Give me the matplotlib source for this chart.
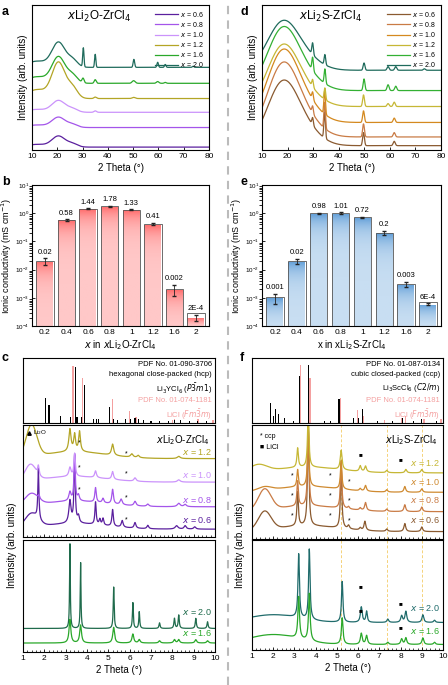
import numpy as np
import matplotlib
matplotlib.use("Agg")
import matplotlib.pyplot as plt
from matplotlib.lines import Line2D

plt.rcParams['font.family'] = ['Liberation Sans', 'DejaVu Sans']
plt.rcParams['mathtext.fontset'] = 'dejavusans'

W, H = 448, 685

# ---------------- data ----------------
x_labels = ['0.6', '0.8', '1.0', '1.2', '1.6', '2.0']

# panel a: base, hump amplitude, sharp peaks (center, amp, sigma)
a_colors = ['#5a1f9e', '#a455ea', '#cb93fb', '#b3a525', '#2aa82a', '#1f6b5c']
a_base = [0.02, 0.155, 0.26, 0.355, 0.46, 0.57]
a_hump = [0.075, 0.07, 0.08, 0.245, 0.18, 0.17]
a_peaks = [[], [], [(35, 0.01, 0.5)],
           [(35, 0.01, 0.5), (50.2, 0.008, 0.6)],
           [(30.2, 0.03, 0.4), (35, 0.025, 0.4), (50.2, 0.018, 0.6), (59.7, 0.012, 0.5), (62.7, 0.006, 0.4)],
           [(30.3, 0.13, 0.25), (35, 0.09, 0.25), (50.3, 0.055, 0.3), (59.7, 0.035, 0.3),
            (62.7, 0.02, 0.3), (73.7, 0.008, 0.3)]]

# panel d
d_colors = ['#8a5a30', '#c97b45', '#d4891f', '#c6b735', '#33b033', '#1f6b5c']
d_base = [0.03, 0.09, 0.19, 0.30, 0.41, 0.55]
d_hump = [0.42, 0.48, 0.47, 0.40, 0.41, 0.32]
d_peaks = [[(29.8, 0.05, 0.3), (34.5, 0.18, 0.3), (49.7, 0.09, 0.35), (61.7, 0.03, 0.4)],
           [(29.8, 0.05, 0.3), (34.5, 0.18, 0.3), (49.7, 0.09, 0.35), (61.7, 0.03, 0.4)],
           [(29.8, 0.05, 0.3), (34.5, 0.16, 0.3), (49.7, 0.08, 0.35), (61.7, 0.03, 0.4)],
           [(29.8, 0.05, 0.3), (34.6, 0.08, 0.3), (49.7, 0.08, 0.35), (59.3, 0.02, 0.4), (61.7, 0.03, 0.4)],
           [(29.8, 0.09, 0.3), (34.6, 0.10, 0.3), (49.9, 0.08, 0.35), (59.3, 0.04, 0.4), (62.3, 0.03, 0.4)],
           [(29.8, 0.08, 0.3), (34.6, 0.07, 0.3), (49.9, 0.05, 0.35), (59.3, 0.025, 0.4),
            (62.3, 0.025, 0.4), (73.5, 0.01, 0.4)]]

# panels b / e
bar_cats = ['0.2', '0.4', '0.6', '0.8', '1', '1.2', '1.6', '2']
b_vals = [0.02, 0.58, 1.44, 1.78, 1.33, 0.41, 0.002, 2e-4]
b_errs = [0.005, 0.03, 0.05, 0.06, 0.05, 0.04, 0.0008, 5e-5]
b_text = ['0.02', '0.58', '1.44', '1.78', '1.33', '0.41', '0.002', '2E-4']
e_vals = [0.001, 0.02, 0.98, 1.01, 0.72, 0.2, 0.003, 6e-4]
e_errs = [0.0004, 0.004, 0.05, 0.05, 0.04, 0.03, 0.0006, 0.00003]
e_text = ['0.001', '0.02', '0.98', '1.01', '0.72', '0.2', '0.003', '6E-4']

# panel c reference sticks
c_black_pos = [2.06, 2.22, 2.77, 3.22, 3.47, 3.53, 3.75, 3.9, 4.3, 4.45, 4.55, 5.05, 5.25, 5.45,
               5.8, 6.05, 6.25, 6.4, 6.65, 7.0, 7.4, 7.8, 8.1, 8.4, 8.8, 9.2, 9.6]
c_black_h = [0.40, 0.29, 0.11, 0.10, 0.90, 0.10, 0.10, 0.61, 0.07, 0.07, 0.06, 0.26, 0.07, 0.05,
             0.07, 0.06, 0.08, 0.07, 0.05, 0.04, 0.04, 0.04, 0.05, 0.05, 0.04, 0.04, 0.03]
c_pink_pos = [3.35, 3.79, 5.18, 6.0, 6.3, 8.0, 8.1, 9.2, 9.9]
c_pink_h = [0.92, 0.72, 0.38, 0.20, 0.10, 0.05, 0.06, 0.07, 0.05]

# panel f reference sticks
f_black_pos = [1.87, 2.0, 2.1, 2.25, 2.55, 2.95, 3.25, 3.65, 4.4, 4.7, 5.1, 5.8, 6.0, 6.2, 6.9, 7.6, 8.1, 8.6, 9.0, 9.7]
f_black_h = [0.33, 0.12, 0.22, 0.15, 0.08, 0.04, 0.76, 0.93, 0.03, 0.04, 0.38, 0.08, 0.08, 0.22,
             0.03, 0.03, 0.08, 0.03, 0.07, 0.03]
f_pink_pos = [3.29, 3.73, 5.16, 5.98, 6.27, 7.25, 8.05, 8.23, 9.1, 9.9]
f_pink_h = [0.93, 0.73, 0.40, 0.21, 0.12, 0.05, 0.08, 0.12, 0.06, 0.06]

# panel c middle
c_mid_labels = ['0.6', '0.8', '1.0', '1.2']
c_mid_colors = ['#5a1f9e', '#a455ea', '#cb93fb', '#b3a525']
c_mid_base = [0.07, 0.27, 0.49, 0.70]
c_mid_peaks = [
    [(1.4, 0.12, 0.3), (3.4, 0.05, 1.5), (1.72, 0.45, 0.03), (3.2, 0.2, 0.06), (3.42, 0.6, 0.035), (3.6, 0.06, 0.05),
     (4.4, 0.2, 0.035), (4.6, 0.05, 0.04), (4.75, 0.06, 0.04), (5.2, 0.15, 0.04), (5.65, 0.06, 0.05),
     (6.25, 0.05, 0.05), (6.85, 0.03, 0.05), (8.2, 0.03, 0.08), (8.6, 0.03, 0.06), (9.05, 0.02, 0.06)],
    [(1.4, 0.1, 0.3), (3.4, 0.05, 1.5), (1.75, 0.03, 0.04), (3.2, 0.08, 0.06), (3.42, 0.42, 0.035), (3.6, 0.05, 0.05),
     (4.4, 0.13, 0.04), (4.75, 0.04, 0.05), (5.2, 0.13, 0.045), (5.6, 0.05, 0.06), (6.25, 0.04, 0.06),
     (6.85, 0.02, 0.06), (8.3, 0.03, 0.08), (8.6, 0.02, 0.07)],
    [(1.35, 0.14, 0.25), (3.4, 0.05, 1.5), (1.72, 0.08, 0.04), (3.2, 0.08, 0.06), (3.42, 0.2, 0.04),
     (4.4, 0.06, 0.05), (5.2, 0.07, 0.05), (6.25, 0.03, 0.06), (8.3, 0.02, 0.08)],
    [(1.4, 0.28, 0.25), (3.4, 0.06, 1.5), (3.2, 0.2, 0.06), (3.42, 0.15, 0.05), (3.65, 0.18, 0.05),
     (5.2, 0.1, 0.06), (6.1, 0.03, 0.07), (6.4, 0.02, 0.06), (8.3, 0.02, 0.08)],
]

c_bot_labels = ['2.0', '1.6']
c_bot_colors = ['#1f6b4c', '#2aa82a']
c_bot_base = [0.21, 0.08]
c_bot_peaks = [
    [(3.2, 0.76, 0.02), (3.7, 0.59, 0.02), (5.25, 0.37, 0.025), (6.15, 0.23, 0.025), (6.45, 0.15, 0.025),
     (7.4, 0.05, 0.03), (8.1, 0.09, 0.03), (8.3, 0.12, 0.03), (9.1, 0.09, 0.03), (9.65, 0.06, 0.03)],
    [(3.2, 0.21, 0.05), (3.7, 0.16, 0.05), (5.25, 0.14, 0.05), (6.15, 0.08, 0.05), (6.45, 0.03, 0.05),
     (7.4, 0.02, 0.05), (8.1, 0.03, 0.05), (8.3, 0.03, 0.05), (9.1, 0.03, 0.05), (9.65, 0.02, 0.05)],
]

f_mid_labels = ['0.6', '0.8', '1.0', '1.2']
f_mid_colors = ['#8a5a30', '#c97b45', '#cf8a30', '#c6b735']
f_mid_base = [0.065, 0.24, 0.41, 0.58]
f_mid_peaks = [
    [(1.6, 0.16, 0.3), (3.6, 0.05, 1.5), (3.15, 0.3, 0.04), (3.65, 0.9, 0.04), (5.2, 0.55, 0.04), (5.55, 0.03, 0.05),
     (6.1, 0.02, 0.05), (6.32, 0.08, 0.05), (7.35, 0.02, 0.05), (8.2, 0.07, 0.05), (9.0, 0.04, 0.05)],
    [(1.6, 0.18, 0.3), (3.6, 0.05, 1.5), (3.15, 0.22, 0.04), (3.65, 0.7, 0.04), (5.2, 0.4, 0.04), (5.55, 0.02, 0.05),
     (6.1, 0.02, 0.05), (6.35, 0.07, 0.05), (7.35, 0.02, 0.05), (8.2, 0.06, 0.05), (9.0, 0.04, 0.05)],
    [(1.6, 0.03, 0.3), (3.6, 0.05, 1.5), (3.15, 0.15, 0.04), (3.65, 0.5, 0.04), (5.2, 0.25, 0.04),
     (6.1, 0.02, 0.05), (6.35, 0.05, 0.05), (7.35, 0.02, 0.05), (8.2, 0.05, 0.05), (9.0, 0.03, 0.05)],
    [(1.3, 0.06, 0.4), (3.6, 0.05, 1.5), (3.15, 0.17, 0.04), (3.65, 0.5, 0.04), (5.2, 0.17, 0.05),
     (6.1, 0.05, 0.05), (6.35, 0.05, 0.05), (7.35, 0.02, 0.05), (8.25, 0.03, 0.05), (9.0, 0.03, 0.05)],
]

f_bot_labels = ['2.0', '1.6']
f_bot_colors = ['#1f6b6b', '#2aa82a']
f_bot_base = [0.25, 0.05]
f_bot_peaks = [
    [(2.0, 0.07, 1.2), (3.2, 0.58, 0.04), (3.7, 0.64, 0.04), (5.25, 0.37, 0.04), (6.15, 0.14, 0.05),
     (6.4, 0.1, 0.04), (7.4, 0.03, 0.05), (8.05, 0.06, 0.05), (8.25, 0.1, 0.05), (9.05, 0.07, 0.05), (9.6, 0.02, 0.05)],
    [(2.0, 0.09, 1.2), (3.2, 0.38, 0.045), (3.7, 0.43, 0.045), (5.25, 0.24, 0.045), (6.15, 0.1, 0.05),
     (6.4, 0.08, 0.05), (7.4, 0.02, 0.05), (8.05, 0.05, 0.05), (8.25, 0.06, 0.05), (9.05, 0.06, 0.05), (9.6, 0.02, 0.05)],
]


def curve(x, base, peaks):
    y = np.full_like(x, base)
    for c, a, s in peaks:
        if s > 0.2:
            y += a * np.exp(-0.5 * ((x - c) / s) ** 2)
        else:
            y += a / (1 + ((x - c) / s) ** 2)
    return y


def box(l, t, r, b):
    return [l / W, 1 - b / H, (r - l) / W, (b - t) / H]


fig = plt.figure(figsize=(W / 100, H / 100), dpi=100)
fs = 6


def style(ax):
    ax.tick_params(direction='in', labelsize=fs, length=2, width=0.6, pad=2)
    for s in ax.spines.values():
        s.set_linewidth(0.8)


# ---------- a / d ----------
tt = np.linspace(10, 80, 1400)
for pos, cols, base, hump, peaks, title, anchor, humpc in [
        (box(32, 5, 209, 150), a_colors, a_base, a_hump, a_peaks, r'$x$Li$_2$O-ZrCl$_4$', 'a', 20.5),
        (box(262, 5, 441, 150), d_colors, d_base, d_hump, d_peaks, r'$x$Li$_2$S-ZrCl$_4$', 'd', 18)]:
    ax = fig.add_axes(pos)
    for i, lab in enumerate(x_labels):
        if anchor == 'a':
            pk = [(humpc, hump[i], 2.6), (26, 0.3 * hump[i], 2.0), (12, 0.25 * hump[i], 4)] + peaks[i]
        else:
            pk = [(humpc, hump[i], 6.0), (27, 0.22 * hump[i], 6)] + peaks[i]
        ax.plot(tt, curve(tt, base[i], pk), color=cols[i], lw=0.9, label=r'$x$ = ' + lab)
    ax.set_xlim(10, 80)
    ax.set_ylim(0, 1)
    ax.set_yticks([])
    ax.set_xticks(range(10, 81, 10))
    ax.set_xlabel('2 Theta (°)', fontsize=7, labelpad=2)
    ax.set_ylabel('Intensity (arb. units)', fontsize=7, labelpad=3)
    ax.legend(loc='upper right', fontsize=5, frameon=False, handlelength=3.2, labelspacing=0.15,
              borderpad=0.2, handletextpad=0.4)
    ax.text(0.38, 0.9, title, transform=ax.transAxes, ha='center', fontsize=8.5)
    style(ax)

# ---------- b / e ----------
for pos, vals, errs, txt, ctop, cbot, xlab in [
        (box(32, 185, 209, 326), b_vals, b_errs, b_text, '#ff6464', '#ffc8c8', r'$x$ in $x$Li$_2$O-ZrCl$_4$'),
        (box(262, 185, 441, 326), e_vals, e_errs, e_text, '#5a9ad6', '#c8def2', r'x in xLi$_2$S-ZrCl$_4$')]:
    ax = fig.add_axes(pos)
    ax.set_yscale('log')
    cmap = matplotlib.colors.LinearSegmentedColormap.from_list('g', [cbot, ctop])
    grad = np.linspace(0, 1, 100).reshape(-1, 1)
    idx = np.arange(len(bar_cats))
    bars = ax.bar(idx, vals, width=0.8, bottom=1e-4, color='none', edgecolor='#555555', lw=0.6, zorder=3)
    for bar, v in zip(bars, vals):
        x0 = bar.get_x()
        im = ax.imshow(grad, cmap=cmap, origin='lower', aspect='auto',
                       extent=(x0, x0 + bar.get_width(), 1e-4, v), zorder=2)
        im.set_clip_path(bar)
    ax.set_xlim(-0.6, 7.6)
    ax.set_ylim(1e-4, 1e1)
    ax.errorbar(idx, vals, yerr=errs, fmt='none', ecolor='#222222', elinewidth=0.6, capsize=1.5, zorder=4)
    for i, (v, e, t) in enumerate(zip(vals, errs, txt)):
        ax.text(i, (v + e) * 1.25, t, ha='center', va='bottom', fontsize=5.5)
    ax.set_xticks(idx)
    ax.set_xticklabels(bar_cats)
    ax.set_yticks([1e-4, 1e-3, 1e-2, 1e-1, 1e0, 1e1])
    ax.set_xlabel(xlab, fontsize=7, labelpad=2)
    ax.set_ylabel('Ionic conductivity (mS cm$^{-1}$)', fontsize=6.5, labelpad=1)
    style(ax)
    ax.tick_params(axis='y', labelsize=4.5, which='both')
    ax.tick_params(axis='x', length=0)


# ---------- c / f ----------
def stick_panel(pos, bpos, bh, ppos, ph, lines):
    ax = fig.add_axes(pos)
    ax.bar(ppos, ph, width=0.06, color='#f4a0a0', zorder=2)
    ax.bar(bpos, bh, width=0.05, color='black', zorder=3)
    ax.set_xlim(1, 10)
    ax.set_ylim(0, 1.05)
    ax.set_xticks([])
    ax.set_yticks([])
    for t, c, y in lines:
        ax.text(0.985, y, t, transform=ax.transAxes, ha='right', va='top', fontsize=5.5, color=c)
    for s in ax.spines.values():
        s.set_linewidth(0.8)
    return ax


tc = np.linspace(1, 10, 2000)


def stack_panel(pos, labels, cols, bases, peaks, bottom):
    ax = fig.add_axes(pos)
    for lab, c, b, pk in zip(labels, cols, bases, peaks):
        y = curve(tc, b, pk)
        ax.plot(tc, y, color=c, lw=0.9)
        top = y[tc > 8.9].max()
        ax.text(9.85, top + 0.015, r'$x$ = ' + lab, color=c, ha='right', va='bottom', fontsize=6.5)
    ax.set_xlim(1, 10)
    ax.set_ylim(0, 1)
    ax.set_yticks([])
    ax.set_xticks(range(1, 11))
    ax.set_xticks(np.arange(1, 10.01, 0.2), minor=True)
    style(ax)
    ax.tick_params(which='minor', direction='in', length=1.2, width=0.5)
    if bottom:
        ax.set_xlabel('2 Theta (°)', fontsize=7, labelpad=2)
    else:
        ax.set_xticklabels([])
    return ax


stick_panel(box(23, 358, 215, 423), c_black_pos, c_black_h, c_pink_pos, c_pink_h,
            [('PDF No. 01-090-3706', 'black', 0.96),
             ('hexagonal close-packed (hcp)', 'black', 0.8),
             (r'Li$_3$YCl$_6$ ($P\bar{3}m1$)', 'black', 0.64),
             ('PDF No. 01-074-1181', '#f4a0a0', 0.4),
             (r'LiCl ($Fm\bar{3}m$)', '#f4a0a0', 0.24)])
axc = stack_panel(box(23, 425, 215, 537), c_mid_labels, c_mid_colors, c_mid_base, c_mid_peaks, False)
axc.text(0.97, 0.93, r'$x$Li$_2$O-ZrCl$_4$', transform=axc.transAxes, ha='right', va='top', fontsize=7)
axc.plot([1.28], [0.93], marker='^', ms=2.5, color='black')
axc.text(1.45, 0.93, r'Li$_2$O', fontsize=4.5, va='center')
for xm, ym in [(3.62, 0.84), (3.62, 0.62), (3.62, 0.42), (5.85, 0.74), (5.85, 0.56), (5.85, 0.35), (5.85, 0.15)]:
    axc.text(xm, ym, '*', fontsize=5, ha='center', va='center')
stack_panel(box(23, 540, 215, 652), c_bot_labels, c_bot_colors, c_bot_base, c_bot_peaks, True)
fig.text(12 / W, 1 - 545 / H, 'Intensity (arb. units)', rotation=90, ha='center', va='center', fontsize=7)

stick_panel(box(252, 358, 443, 423), f_black_pos, f_black_h, f_pink_pos, f_pink_h,
            [('PDF No. 01-087-0134', 'black', 0.96),
             ('cubic closed-packed (ccp)', 'black', 0.8),
             (r'Li$_3$ScCl$_6$ ($C2/m$)', 'black', 0.64),
             ('PDF No. 01-074-1181', '#f4a0a0', 0.4),
             (r'LiCl ($Fm\bar{3}m$)', '#f4a0a0', 0.24)])
axf = stack_panel(box(252, 425, 443, 539), f_mid_labels, f_mid_colors, f_mid_base, f_mid_peaks, False)
axf.text(0.97, 0.93, r'$x$Li$_2$S-ZrCl$_4$', transform=axf.transAxes, ha='right', va='top', fontsize=7)
axf.text(0.04, 0.93, '* ccp', transform=axf.transAxes, fontsize=5, va='top')
axf.text(0.04, 0.83, '■ LiCl', transform=axf.transAxes, fontsize=5, va='top')
for b in f_mid_base[:3]:
    for xm in [2.9, 4.7, 5.6]:
        axf.text(xm, b + (0.14 if xm < 5 else 0.09), '*', fontsize=5, ha='center', va='center')
for xm, ym in [(6.1, 0.74), (8.0, 0.7)]:
    axf.text(xm, ym, '■', fontsize=4.5, ha='center', va='center')
axf2 = stack_panel(box(252, 540, 443, 650), f_bot_labels, f_bot_colors, f_bot_base, f_bot_peaks, True)
for xm, ym in [(6.1, 0.58), (8.0, 0.42), (6.1, 0.36), (8.0, 0.2)]:
    axf2.text(xm, ym, '■', fontsize=4.5, ha='center', va='center')
for a in (axf, axf2):
    for xv in [5.2, 7.35, 9.0]:
        a.axvline(xv, color='#f5d27a', lw=0.7, ls=(0, (3, 2)), zorder=0)
fig.text(240 / W, 1 - 545 / H, 'Intensity (arb. units)', rotation=90, ha='center', va='center', fontsize=7)

# separator and panel letters
fig.add_artist(Line2D([228 / W, 228 / W], [0.0, 1.0], color='#bbbbbb', lw=1.5, ls=(0, (4, 3))))
for t, xp, yp in [('a', 2, 12), ('b', 2, 182), ('c', 2, 358), ('d', 240, 12), ('e', 240, 182), ('f', 240, 358)]:
    fig.text(xp / W, 1 - yp / H, t, fontsize=9, fontweight='bold', va='center')

fig.savefig('out.png', dpi=100)
